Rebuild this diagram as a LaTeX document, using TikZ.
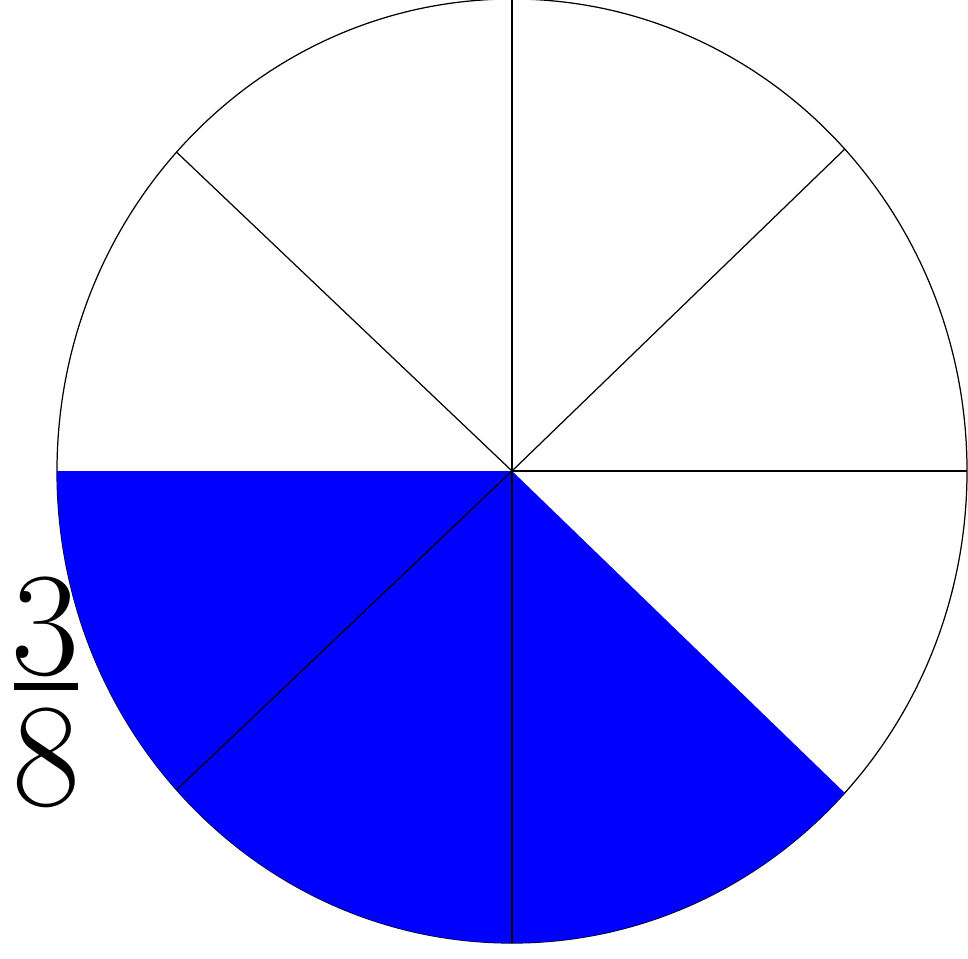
\documentclass[tikz,border=0pt]{standalone}
\definecolor{pieblue}{RGB}{0,0,255}
\usetikzlibrary{calc}
\begin{document}
\begin{tikzpicture}[x=0.01cm,y=-0.01cm,
    spoke/.style={draw=black,line width=0.35pt},
    digit/.style={inner sep=0pt,font=\rmfamily\fontsize{42}{44}\selectfont}]
  \useasboundingbox (0,0) rectangle (968,958);
  % Centre of the pie
  \coordinate (c) at (512,471);
  % Outline
  \draw[spoke] (c) ellipse [x radius=455,y radius=472];
  % Shaded part: three eighths
  \fill[pieblue] (c) -- ($(c)+({455*cos(180)},{472*sin(180)})$)
        arc[start angle=180,end angle=43,x radius=455,y radius=472] -- cycle;
  % Spokes
  \foreach \a in {270,317,0,90,137.5,222.5}
    \draw[spoke] (c) -- ($(c)+({455*cos(\a)},{472*sin(\a)})$);
  % Fraction label
  \node[digit] (num) at (45,627) {3};
  \node[digit] (den) at (46,758) {8};
  \fill[black] (14,683) rectangle (78,690);
\end{tikzpicture}
\end{document}
